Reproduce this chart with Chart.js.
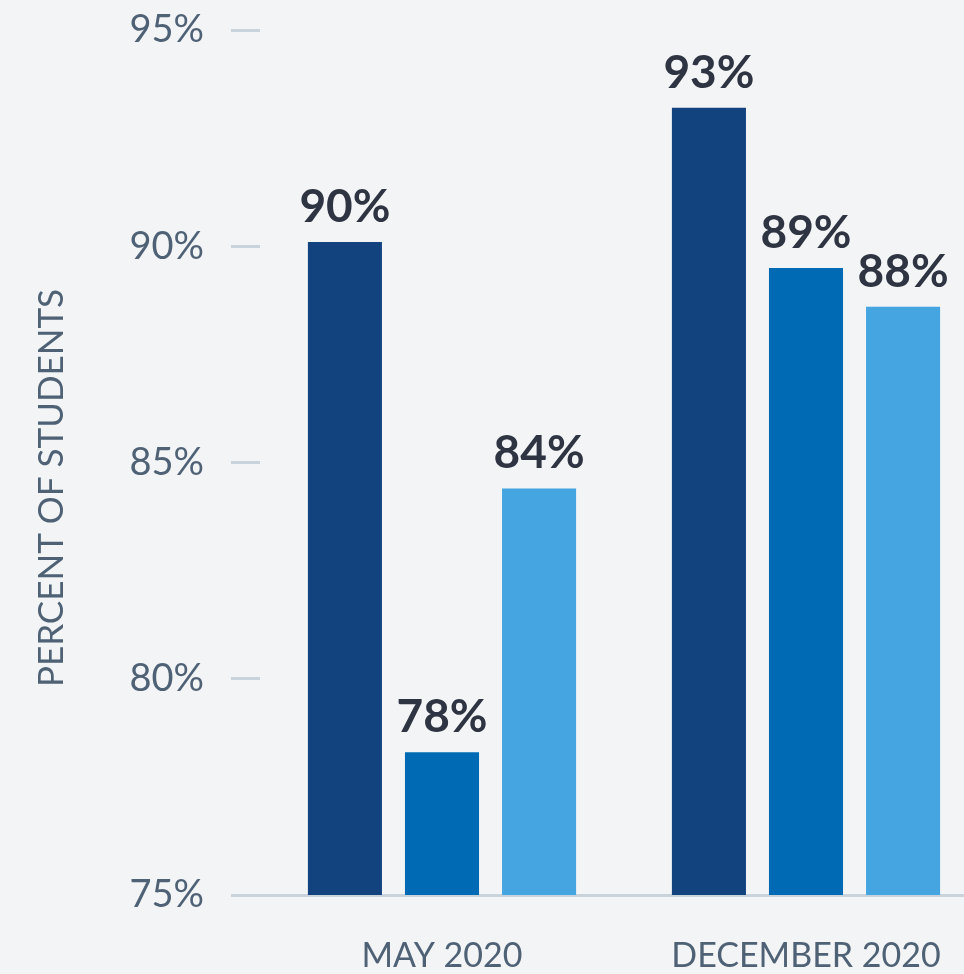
<!DOCTYPE html>
<html>
<head>
<meta charset="utf-8">
<script src="https://cdn.jsdelivr.net/npm/chart.js@4"></script>
<style>
  html, body { margin: 0; padding: 0; background: #f3f4f6; overflow: hidden; }
  #wrap { width: 988px; height: 974px; }
</style>
</head>
<body>
<div id="wrap"><canvas id="studentChart" width="988" height="974"></canvas></div>
<script>
const periods = ['MAY 2020', 'DECEMBER 2020'];
const groupA = [90.1, 93.2];
const groupB = [78.3, 89.5];
const groupC = [84.4, 88.6];
const yTicks = [75, 80, 85, 90, 95];
const yTitle = 'PERCENT OF STUDENTS';

const FONT = 'Lato, "Open Sans", sans-serif';
const AXIS_GREY = '#4f6275';
const LINE_GREY = '#c9d3dc';

// value labels above each bar (truncated to whole percent) + rotated y title
const barLabels = {
    id: 'barLabels',
    afterDatasetsDraw(chart) {
        const ctx = chart.ctx;
        ctx.save();
        ctx.font = 'bold 46px ' + FONT;
        ctx.fillStyle = '#2e3441';
        ctx.textAlign = 'center';
        ctx.textBaseline = 'alphabetic';
        chart.data.datasets.forEach((ds, i) => {
            chart.getDatasetMeta(i).data.forEach((bar, j) => {
                ctx.fillText(Math.floor(ds.data[j]) + '%', bar.x, bar.y - 20);
            });
        });
        ctx.restore();

        ctx.save();
        ctx.translate(52, 488);
        ctx.rotate(-Math.PI / 2);
        ctx.font = '35px ' + FONT;
        ctx.fillStyle = AXIS_GREY;
        ctx.textAlign = 'center';
        ctx.textBaseline = 'middle';
        ctx.fillText(yTitle, 0, 0);
        ctx.restore();
    }
};

const ctx = document.getElementById('studentChart').getContext('2d');
new Chart(ctx, {
    type: 'bar',
    data: {
        labels: periods,
        datasets: [
            { data: groupA, backgroundColor: '#12437f' },
            { data: groupB, backgroundColor: '#006bb4' },
            { data: groupC, backgroundColor: '#45a5e0' }
        ]
    },
    options: {
        responsive: false,
        animation: false,
        categoryPercentage: 0.8,
        barPercentage: 0.763,
        layout: { padding: { left: 0, top: 30, right: 0, bottom: 0 } },
        plugins: {
            legend: { display: false },
            tooltip: { enabled: false }
        },
        scales: {
            x: {
                afterFit: (scale) => { scale.height = 79; },
                grid: { display: false, drawTicks: false },
                border: { display: true, color: LINE_GREY, width: 3 },
                ticks: {
                    color: AXIS_GREY,
                    font: { family: FONT, size: 34 },
                    padding: 41,
                    maxRotation: 0
                }
            },
            y: {
                min: 75,
                max: 95,
                afterBuildTicks: (scale) => {
                    scale.ticks = yTicks.map(v => ({ value: v }));
                },
                afterFit: (scale) => {
                    scale.width = 260;
                    scale.paddingTop = 0;
                    scale.paddingBottom = 0;
                },
                grid: {
                    drawOnChartArea: false,
                    tickLength: 29,
                    color: LINE_GREY,
                    lineWidth: 3
                },
                border: { display: false },
                ticks: {
                    color: AXIS_GREY,
                    font: { family: FONT, size: 38 },
                    padding: 27,
                    callback: v => v + '%'
                }
            }
        }
    },
    plugins: [barLabels]
});
</script>
</body>
</html>
